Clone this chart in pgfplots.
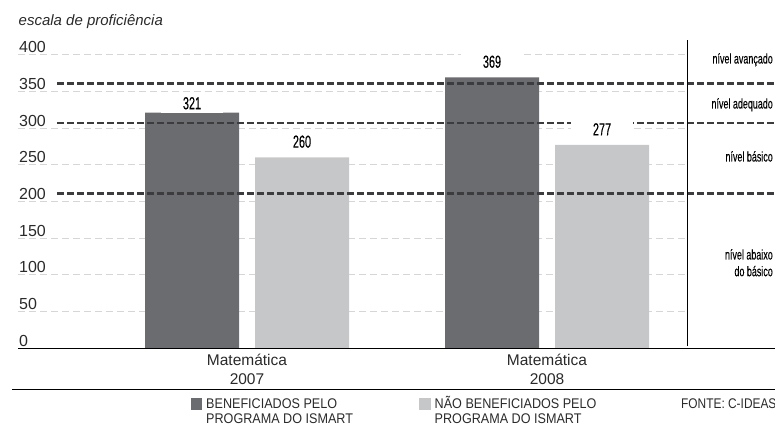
\documentclass[border=0pt]{standalone}
\usepackage{fontspec}
\setmainfont{Liberation Sans}
\newfontfamily\condfont[FakeStretch=0.62,FakeBold=0.25]{Liberation Sans}
\newfontfamily\lvlfont[FakeStretch=0.64,FakeBold=0.1]{Liberation Sans}
\newfontfamily\legfont[FakeStretch=0.9]{Liberation Sans}
\newfontfamily\srcfont[FakeStretch=0.85]{Liberation Sans}
\usepackage{pgfplots}
\pgfplotsset{compat=1.18}
\definecolor{bardark}{HTML}{6B6C70}
\definecolor{barlight}{HTML}{C6C7C9}
\definecolor{gridgray}{HTML}{D6D6D6}
\definecolor{linedark}{HTML}{3C3C3E}
\definecolor{txt}{HTML}{2A2A2A}
\begin{document}
\begin{tikzpicture}[x=1pt,y=1pt]
\path[use as bounding box] (0,0) rectangle (775,425);
\begin{axis}[
  at={(18pt,76.7pt)}, anchor=south west,
  scale only axis, width=669.7pt, height=308.3pt,
  xmin=18, xmax=687.7, ymin=0, ymax=420,
  clip=false,
  axis line style={draw=none},
  major tick length=0pt,
  ytick={0,50,...,400},
  yticklabel style={anchor=south west, inner sep=0pt, xshift=1pt, yshift=1.7pt, font=\fontsize{16}{19}\selectfont, text=txt},
  /pgf/number format/assume math mode=true,
  ymajorgrids,
  grid style={gridgray, line width=1pt, dash pattern=on 7pt off 4pt},
  xtick={247,547},
  xticklabels={{Matemática\\2007},{Matemática\\2008}},
  xticklabel style={align=center, font=\fontsize{15.5}{19}\selectfont, text=txt, inner sep=0pt, anchor=north, yshift=-6pt},
]
% bars
\addplot[ybar, bar width=94, bar shift=0pt, fill=bardark, draw=none] coordinates {(192,321) (492,369)};
\addplot[ybar, bar width=94, bar shift=0pt, fill=barlight, draw=none] coordinates {(302,260) (602,277)};
% level thresholds
\addplot[linedark, line width=2.5pt, dash pattern=on 7pt off 3pt] coordinates {(57,361) (775,361)};
\addplot[linedark, line width=2.5pt, dash pattern=on 7pt off 3pt] coordinates {(57,307) (775,307)};
\addplot[linedark, line width=2.5pt, dash pattern=on 7pt off 3pt] coordinates {(57,211) (775,211)};
% value labels
\addplot[draw=none, nodes near coords, point meta=explicit symbolic,
  every node near coord/.append style={anchor=center, fill=white, inner xsep=22pt, inner ysep=4pt, font=\condfont\fontsize{17.5}{19}\selectfont, text=black}]
  coordinates {(192,333.8)[321] (302,281.5)[260] (492,390.4)[369] (602,298.3)[277]};
% axis rules
\draw[black, line width=1.2pt] (axis cs:687.7,3) -- (axis cs:687.7,420);
\draw[black, line width=1.5pt] (axis cs:18,0) -- (axis cs:775,0);
\end{axis}
% rule below categories
\draw[black, line width=1.2pt] (12,35.7) -- (775,35.7);
% title
\node[anchor=base west, inner sep=0pt, text=txt, font=\itshape\fontsize{15}{18}\selectfont] at (18.5,399) {escala de proficiência};
% level names
\begin{scope}[every node/.style={anchor=base east, inner sep=0pt, text=black, font=\lvlfont\fontsize{14}{16}\selectfont}]
\node at (773,361.5) {nível avançado};
\node at (773,316.5) {nível adequado};
\node at (773,263.5) {nível básico};
\node at (773,165.5) {nível abaixo};
\node at (773,148.8) {do básico};
\end{scope}
% legend
\fill[bardark] (190.7,15) rectangle (202.3,27);
\fill[barlight] (419.3,15) rectangle (431,27);
\begin{scope}[every node/.style={anchor=base west, inner sep=0pt, text=txt, font=\legfont\fontsize{14}{16}\selectfont}]
\node at (206,16.5) {BENEFICIADOS PELO};
\node at (206,1.5) {PROGRAMA DO ISMART};
\node at (434.5,16.5) {NÃO BENEFICIADOS PELO};
\node at (434.5,1.5) {PROGRAMA DO ISMART};
\end{scope}
\node[anchor=base west, inner sep=0pt, text=txt, font=\srcfont\fontsize{14}{16}\selectfont] at (681,16.5) {FONTE: C-IDEAS};
\end{tikzpicture}
\end{document}
